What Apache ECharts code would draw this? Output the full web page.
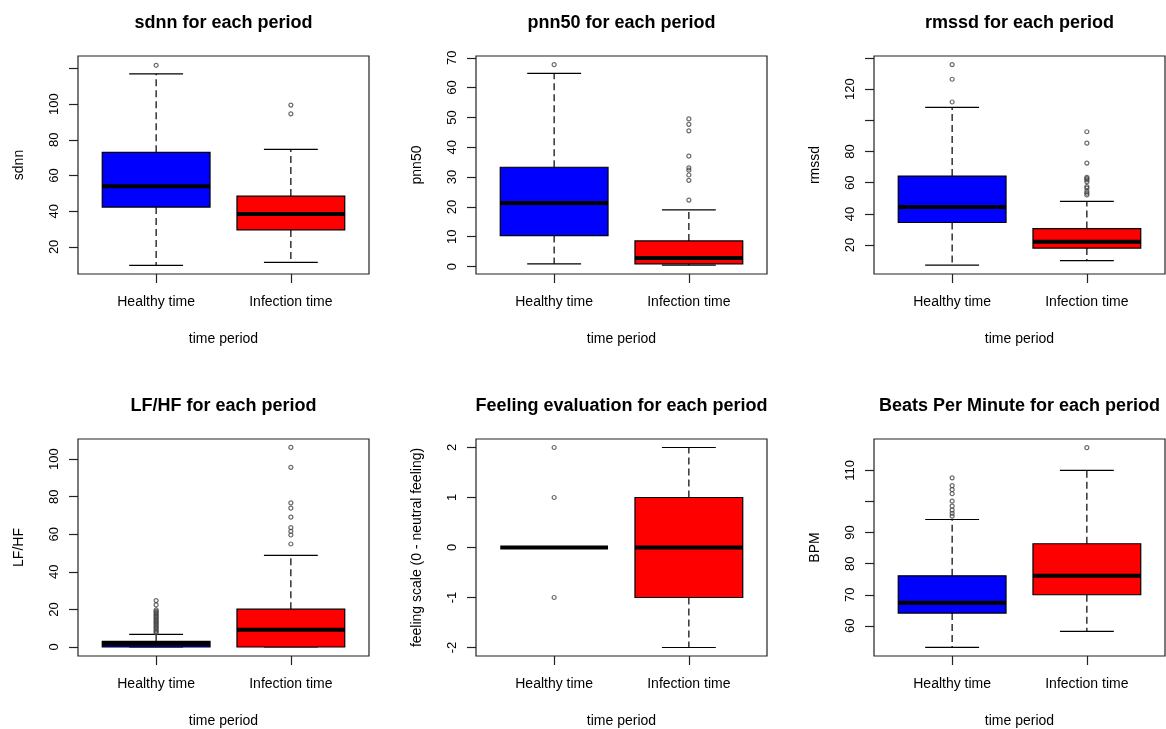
<!DOCTYPE html>
<html>
<head>
<meta charset="utf-8">
<script src="https://cdn.jsdelivr.net/npm/echarts@6/dist/echarts.min.js"></script>
<style>
html,body{margin:0;padding:0;background:#fff;}
#chart{width:1166px;height:729px;}
</style>
</head>
<body>
<div id="chart"></div>
<script>
// ---- data (five-number summaries: [lower whisker, Q1, median, Q3, upper whisker]) ----
var categories = ['Healthy time', 'Infection time'];
var xTitle = 'time period';

var panelTitles = ['sdnn for each period', 'pnn50 for each period', 'rmssd for each period',
                   'LF/HF for each period', 'Feeling evaluation for each period', 'Beats Per Minute for each period'];
var yTitles = ['sdnn', 'pnn50', 'rmssd', 'LF/HF', 'feeling scale (0 - neutral feeling)', 'BPM'];

var sdnnHealthy = [9.6, 42.3, 54.0, 73.0, 117.0];
var sdnnInfection = [11.3, 29.5, 38.4, 48.5, 74.7];
var sdnnHealthyOut = [121.8];
var sdnnInfectionOut = [94.6, 99.5];

var pnn50Healthy = [0.9, 10.4, 21.3, 33.3, 64.8];
var pnn50Infection = [0.45, 0.9, 2.9, 8.6, 19.0];
var pnn50HealthyOut = [67.7];
var pnn50InfectionOut = [22.3, 28.9, 30.7, 32.3, 33.1, 37.0, 45.5, 47.7, 49.5];

var rmssdHealthy = [7.2, 34.5, 44.5, 64.3, 108.3];
var rmssdInfection = [10.0, 18.1, 22.1, 30.6, 48.1];
var rmssdHealthyOut = [111.8, 126.4, 135.8];
var rmssdInfectionOut = [52.2, 53.3, 54.5, 56.5, 57.5, 60.5, 61.8, 62.6, 63.4, 72.6, 85.4, 92.7];

var lfhfHealthy = [0, 0, 1.7, 3.0, 6.7];
var lfhfInfection = [0, 0, 9.2, 20.1, 48.8];
var lfhfHealthyOut = [7.6, 8.2, 9.0, 9.8, 10.5, 11.2, 12.0, 12.7, 13.4, 14.1, 14.8, 15.5, 16.2, 16.9, 17.6, 18.3, 19.0, 19.7, 22.4, 24.7];
var lfhfInfectionOut = [54.8, 59.6, 61.5, 63.5, 69.1, 73.9, 76.7, 95.6, 106.2];

var feelHealthy = [0, 0, 0, 0, 0];
var feelInfection = [-2, -1, 0, 1, 2];
var feelHealthyOut = [-1, 1, 2];
var feelInfectionOut = [];

var bpmHealthy = [53.1, 64.1, 67.4, 76.1, 94.2];
var bpmInfection = [58.2, 70.0, 76.1, 86.4, 110.0];
var bpmHealthyOut = [95.3, 96.2, 97.2, 98.5, 100.1, 102.5, 103.8, 105.1, 107.6];
var bpmInfectionOut = [117.3];

// axis extents (R extends the data range by 4%)
var yRanges = [[4.8, 127.0], [-2.5, 70.6], [1.45, 141.3], [-4.8, 110.7], [-2.17, 2.17], [50.3, 120.1]];
// tick marks and labelled ticks
var yTicks = [[20, 40, 60, 80, 100, 120], [0, 10, 20, 30, 40, 50, 60, 70], [20, 40, 60, 80, 100, 120, 140],
              [0, 20, 40, 60, 80, 100], [-2, -1, 0, 1, 2], [60, 70, 80, 90, 100, 110]];
var yLabels = [[20, 40, 60, 80, 100], [0, 10, 20, 30, 40, 50, 60, 70], [20, 40, 60, 80, 120],
               [0, 20, 40, 60, 80, 100], [-2, -1, 0, 1, 2], [60, 70, 80, 90, 110]];

var summaries = [[sdnnHealthy, sdnnInfection], [pnn50Healthy, pnn50Infection], [rmssdHealthy, rmssdInfection],
                 [lfhfHealthy, lfhfInfection], [feelHealthy, feelInfection], [bpmHealthy, bpmInfection]];
var outliers = [[sdnnHealthyOut, sdnnInfectionOut], [pnn50HealthyOut, pnn50InfectionOut], [rmssdHealthyOut, rmssdInfectionOut],
                [lfhfHealthyOut, lfhfInfectionOut], [feelHealthyOut, feelInfectionOut], [bpmHealthyOut, bpmInfectionOut]];

// ---- layout & style ----
var boxColors = ['#0000FF', '#FF0000'];
var FONT = '"Liberation Sans", Arial, sans-serif';
var colLeft = [78, 476, 874];
var rowTop = [56, 439];
var plotW = 291, plotH = 218;

var chart = echarts.init(document.getElementById('chart'));

var grids = [], xAxes = [], yAxes = [], series = [], titles = [];

function renderBox(params, api) {
  var x = api.value(0);
  var lo = api.value(1), q1 = api.value(2), med = api.value(3), q3 = api.value(4), hi = api.value(5);
  var ci = api.value(6);
  var L = api.coord([x - 0.4, q1]);
  var R = api.coord([x + 0.4, q3]);
  var cL = api.coord([x - 0.2, hi])[0];
  var cR = api.coord([x + 0.2, hi])[0];
  var cx = api.coord([x, med])[0];
  var yLo = api.coord([x, lo])[1], yHi = api.coord([x, hi])[1];
  var yQ1 = L[1], yQ3 = R[1], yMed = api.coord([x, med])[1];
  var stroke = '#000';
  var children = [];
  if (hi > q3) {
    children.push({type: 'line', shape: {x1: cx, y1: yQ3, x2: cx, y2: yHi}, style: {stroke: stroke, lineWidth: 1.2, lineDash: [7, 4]}});
  }
  if (lo < q1) {
    children.push({type: 'line', shape: {x1: cx, y1: yQ1, x2: cx, y2: yLo}, style: {stroke: stroke, lineWidth: 1.2, lineDash: [7, 4]}});
  }
  children.push({type: 'line', shape: {x1: cL, y1: yHi, x2: cR, y2: yHi}, style: {stroke: stroke, lineWidth: 1.2}});
  children.push({type: 'line', shape: {x1: cL, y1: yLo, x2: cR, y2: yLo}, style: {stroke: stroke, lineWidth: 1.2}});
  if (q3 > q1) {
    children.push({type: 'rect', shape: {x: L[0], y: yQ3, width: R[0] - L[0], height: yQ1 - yQ3},
                   style: {fill: boxColors[ci], stroke: stroke, lineWidth: 1.2}});
  }
  children.push({type: 'line', shape: {x1: L[0], y1: yMed, x2: R[0], y2: yMed}, style: {stroke: stroke, lineWidth: 4}});
  return {type: 'group', children: children};
}

for (var p = 0; p < 6; p++) {
  var col = p % 3, row = Math.floor(p / 3);
  grids.push({left: colLeft[col], top: rowTop[row], width: plotW, height: plotH,
              show: true, borderColor: '#222', borderWidth: 1.2, backgroundColor: 'transparent', containLabel: false});
  xAxes.push({
    type: 'value', gridIndex: p, min: 0.42, max: 2.58, position: 'bottom',
    axisLine: {show: false, onZero: false}, splitLine: {show: false},
    axisTick: {show: true, length: 9, customValues: [1, 2], lineStyle: {color: '#222', width: 1.2}},
    axisLabel: {show: true, customValues: [1, 2], margin: 21, fontSize: 14, fontFamily: FONT, color: '#000',
                formatter: function (v) { return categories[Math.round(v) - 1]; }},
    name: xTitle, nameLocation: 'middle', nameGap: 58,
    nameTextStyle: {fontSize: 14, fontFamily: FONT, color: '#000'}
  });
  yAxes.push({
    type: 'value', gridIndex: p, min: yRanges[p][0], max: yRanges[p][1], position: 'left',
    axisLine: {show: false, onZero: false}, splitLine: {show: false},
    axisTick: {show: true, length: 9, customValues: yTicks[p], lineStyle: {color: '#222', width: 1.2}},
    axisLabel: {show: true, customValues: yLabels[p], rotate: 90, margin: 17, fontSize: 13, fontFamily: FONT, color: '#000'},
    name: yTitles[p], nameLocation: 'middle', nameGap: 52, nameRotate: 90,
    nameTextStyle: {fontSize: 14, fontFamily: FONT, color: '#000'}
  });
  var boxData = summaries[p].map(function (s, i) { return [i + 1, s[0], s[1], s[2], s[3], s[4], i]; });
  series.push({
    type: 'custom', xAxisIndex: p, yAxisIndex: p, renderItem: renderBox,
    data: boxData, clip: false, silent: true, z: 2
  });
  var pts = [];
  outliers[p].forEach(function (arr, i) { arr.forEach(function (v) { pts.push([i + 1, v]); }); });
  series.push({
    type: 'scatter', xAxisIndex: p, yAxisIndex: p, data: pts, symbol: 'circle', symbolSize: 4,
    itemStyle: {color: 'rgba(0,0,0,0)', borderColor: '#444', borderWidth: 1.2}, silent: true, z: 3
  });
  titles.push({
    text: panelTitles[p], left: colLeft[col] + plotW / 2, top: row === 0 ? 14 : 397, textAlign: 'center',
    padding: 0,
    textStyle: {fontSize: 18, fontWeight: 'bold', fontFamily: FONT, color: '#000'}
  });
}

chart.setOption({
  animation: false,
  backgroundColor: '#fff',
  title: titles,
  grid: grids,
  xAxis: xAxes,
  yAxis: yAxes,
  series: series
});
</script>
</body>
</html>
